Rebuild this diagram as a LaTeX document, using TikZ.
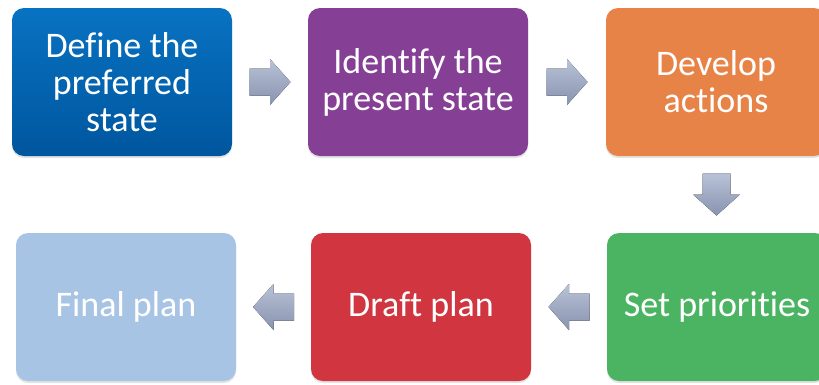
\documentclass[tikz,border=0pt]{standalone}
\usepackage{fontspec}
\setmainfont{Carlito}[Ligatures=NoCommon]
\usetikzlibrary{calc,shadows}

\definecolor{defblueTop}{RGB}{8,114,194}
\definecolor{defblueBot}{RGB}{0,86,158}
\definecolor{idpurple}{RGB}{133,64,150}
\definecolor{devorange}{RGB}{232,131,72}
\definecolor{prigreen}{RGB}{74,180,99}
\definecolor{draftred}{RGB}{208,53,64}
\definecolor{finalblue}{RGB}{167,196,229}
\definecolor{arrtop}{RGB}{184,194,216}
\definecolor{arrbot}{RGB}{136,147,174}

\tikzset{
  stepbox/.style={rounded corners=12pt, text=white, align=center,
    inner sep=0pt, minimum width=220pt, minimum height=148pt,
    font=\fontsize{36}{37}\selectfont,
    drop shadow={opacity=0.22, shadow xshift=0pt, shadow yshift=-2pt}},
  arrfill/.style={top color=arrtop, bottom color=arrbot, draw=none},
  pics/arrright/.style={code={
    \fill[arrfill] (-20.5,-13.5) -- (0,-13.5) -- (0,-23) -- (20.5,0)
      -- (0,23) -- (0,13.5) -- (-20.5,13.5) -- cycle;}},
  pics/arrleft/.style={code={
    \fill[arrfill] (20.5,-13.5) -- (0,-13.5) -- (0,-23) -- (-20.5,0)
      -- (0,23) -- (0,13.5) -- (20.5,13.5) -- cycle;}},
  pics/arrdown/.style={code={
    \fill[arrfill] (-14,-21) -- (-14,0) -- (-23.5,0) -- (0,21)
      -- (23.5,0) -- (14,0) -- (14,-21) -- cycle;}},
}

\begin{document}
\begin{tikzpicture}[x=1pt,y=-1pt]
\useasboundingbox (0,0) rectangle (819,384);
\clip (0,0) rectangle (819,384);

% top row
\node[stepbox, top color=defblueTop, bottom color=defblueBot] (define) at (122,82)
  {Define the\\preferred\\state};
\node[stepbox, fill=idpurple] (identify) at (418,82) {Identify the\\present state};
\node[stepbox, fill=devorange] (develop) at (716,82) {Develop\\actions};

% bottom row
\node[stepbox, fill=finalblue] (final) at (126,307) {Final plan};
\node[stepbox, fill=draftred] (draft) at (421,307) {Draft plan};
\node[stepbox, fill=prigreen] (priorities) at (717,307) {Set priorities};

% block arrows between the steps
\pic at ($(define.east)!0.5!(identify.west)$) {arrright};
\pic at ($(identify.east)!0.5!(develop.west)$) {arrright};
\pic at ($(develop.south)!0.5!(priorities.north)$) {arrdown};
\pic at ($(priorities.west)!0.5!(draft.east)$) {arrleft};
\pic at ($(draft.west)!0.5!(final.east)$) {arrleft};
\end{tikzpicture}
\end{document}
